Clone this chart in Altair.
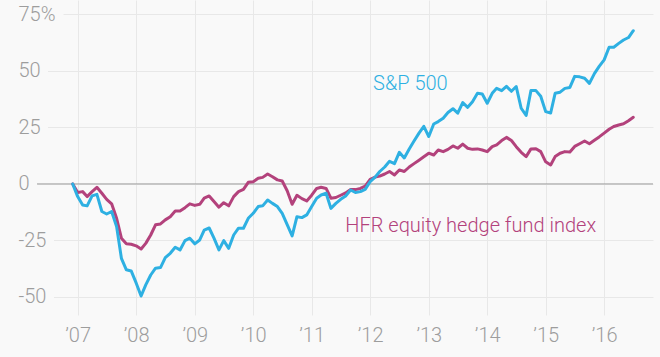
import altair as alt
import pandas as pd

# Cumulative change since Dec 2006, % (monthly, Dec 2006 .. Jul 2016)
sp500 = [
    0, -5.6, -9.3, -9.7, -5.3, -4.6, -12.2, -13.3, -12.2, -18.9,
    -32.9, -38, -38.5, -43.8, -49.6, -44.7, -40.3, -37.3, -37, -32.6,
    -30.7, -28, -29.2, -25.1, -24, -26.5, -24.8, -20.4, -19.5, -24,
    -29.2, -25.1, -28.5, -22.6, -19.6, -19.6, -15.2, -13, -10, -9.7,
    -7.1, -8.6, -10, -13, -18, -23, -14.5, -14.9, -13.7, -10,
    -6.3, -4.9, -4.1, -10.8, -8.6, -6.8, -5.3, -2.7, -3.8, -3.4,
    -2.4, 1, 3, 5.5, 7.5, 10, 9, 14, 11.5, 15.5,
    19, 22.5, 25.5, 21, 26.5, 27.6, 29.1, 31.6, 33.3, 31.3,
    36, 33.9, 36.4, 40.1, 39.8, 35.7, 40.1, 42.3, 41.3, 43.2,
    41, 43.1, 33.5, 30.3, 41.3, 41.3, 38.8, 32, 31.4, 40.1,
    40.6, 42.3, 42.7, 47.6, 47.4, 46.8, 44.5, 48.8, 52, 54.9,
    60.5, 60.5, 62.2, 63.7, 64.8, 67.8,
]
hfr = [
    0, -3.8, -3.4, -5.6, -3.4, -1.5, -4.1, -6.8, -8.8, -15.2,
    -24, -26.5, -26.7, -27.4, -28.8, -26.3, -22.6, -18.1, -17.7, -15.9,
    -14.5, -12, -12, -10.5, -8.8, -9.5, -9, -6.3, -5.3, -7.8,
    -10.3, -8.3, -9.7, -5.6, -3.4, -2.4, 0.7, 1, 2.5, 2.9,
    4.4, 3.2, 1.8, 1.3, -3, -9, -5, -6.5, -7.5, -5,
    -2, -1.5, -2, -6.3, -6, -5, -4, -2.5, -2.5, -2,
    -1, 2, 3, 3.5, 4.4, 5.5, 4, 6.2, 5.5, 7.5,
    9, 10.5, 12, 13.6, 12.8, 15, 14.3, 15.3, 16.8, 15.8,
    17.6, 15.8, 15.3, 15.5, 15, 14.3, 16.5, 17.3, 19.2, 20.6,
    19.2, 16.5, 14, 12.1, 15.5, 15.6, 14.3, 9.8, 8.4, 12.1,
    13.6, 14.3, 14.1, 16.6, 17.8, 19, 17.8, 19.3, 20.8, 22.5,
    24.2, 25.4, 26.1, 26.6, 28, 29.5,
]
start_month = "2006-12-01"
years = list(range(2007, 2017))
y_ticks = [-50, -25, 0, 25, 50, 75]

series_names = ["S&P 500", "HFR equity hedge fund index"]
label_dates = ["2012-01-19", "2011-07-30"]
label_values = [41.6, -21.2]

BLUE = "#2eb0e2"
MAGENTA = "#b3427c"
GRAY = "#9d9d9d"
GRID = "#e8e8e8"
FONT = "Roboto"
WEIGHT = 300

dates = pd.date_range(start_month, periods=len(sp500), freq="MS")
sp_df = pd.DataFrame({"date": dates, "value": sp500})
hfr_df = pd.DataFrame({"date": dates, "value": hfr})
lab_df = pd.DataFrame({"date": pd.to_datetime(label_dates), "value": label_values,
                       "text": series_names, "color": [BLUE, MAGENTA]})

x_scale = alt.Scale(domain=[alt.DateTime(year=2006, month=4, date=22),
                            alt.DateTime(year=2016, month=11, date=1)])
y_scale = alt.Scale(domain=[-58, 81.4], nice=False, zero=False)

x_axis = alt.Axis(
    values=[alt.DateTime(year=y, month=1, date=1) for y in years],
    labelExpr="'\u2019' + timeFormat(datum.value, '%y')",
    title=None, ticks=False, domain=False, grid=True, gridColor=GRID,
    labelFont=FONT, labelFontSize=20, labelFontWeight=WEIGHT, labelColor=GRAY,
    labelPadding=10, labelAlign="center",
)
y_axis = alt.Axis(
    values=y_ticks,
    labelExpr="datum.value == 75 ? '75%' : toString(datum.value)",
    title=None, ticks=False, domain=False, grid=True, gridColor=GRID,
    gridDash={
        "condition": [
            {"test": "datum.value == 75", "value": [0, 26, 3000]},
            {"test": "datum.value == 25 || datum.value == 50", "value": [0, 10.5, 3000]},
            {"test": "datum.value < 0", "value": [0, 16.5, 3000]},
        ],
        "value": [3000, 0],
    },
    labelFont=FONT, labelFontSize=20, labelFontWeight=WEIGHT, labelColor=GRAY,
    labelPadding=19, labelAlign="left", labelBaseline="middle",
)

base_x = alt.X("date:T", scale=x_scale, axis=x_axis)
base_y = alt.Y("value:Q", scale=y_scale, axis=y_axis)

zero = alt.Chart(pd.DataFrame({"value": [0]})).mark_rule(
    color=GRAY, strokeWidth=1
).encode(y=alt.Y("value:Q", scale=y_scale, axis=y_axis))

hfr_line = alt.Chart(hfr_df).mark_line(
    color=MAGENTA, strokeWidth=3, strokeJoin="round", strokeCap="round"
).encode(x=base_x, y=base_y)

sp_line = alt.Chart(sp_df).mark_line(
    color=BLUE, strokeWidth=3, strokeJoin="round", strokeCap="round"
).encode(x=base_x, y=base_y)

labels = alt.Chart(lab_df).mark_text(
    align="left", baseline="alphabetic", font=FONT, fontSize=20, fontWeight=WEIGHT
).encode(
    x=alt.X("date:T", scale=x_scale),
    y=alt.Y("value:Q", scale=y_scale),
    text="text:N",
    color=alt.Color("color:N", scale=None),
)

chart = alt.layer(zero, hfr_line, sp_line, labels).properties(
    width=616, height=315,
    autosize=alt.AutoSizeParams(type="none"),
    padding={"left": 37, "top": 0, "right": 7, "bottom": 42},
    background="#f9f9f9",
).configure_view(stroke=None)

chart.save("out.html", embed_options={"renderer": "svg", "actions": False})
